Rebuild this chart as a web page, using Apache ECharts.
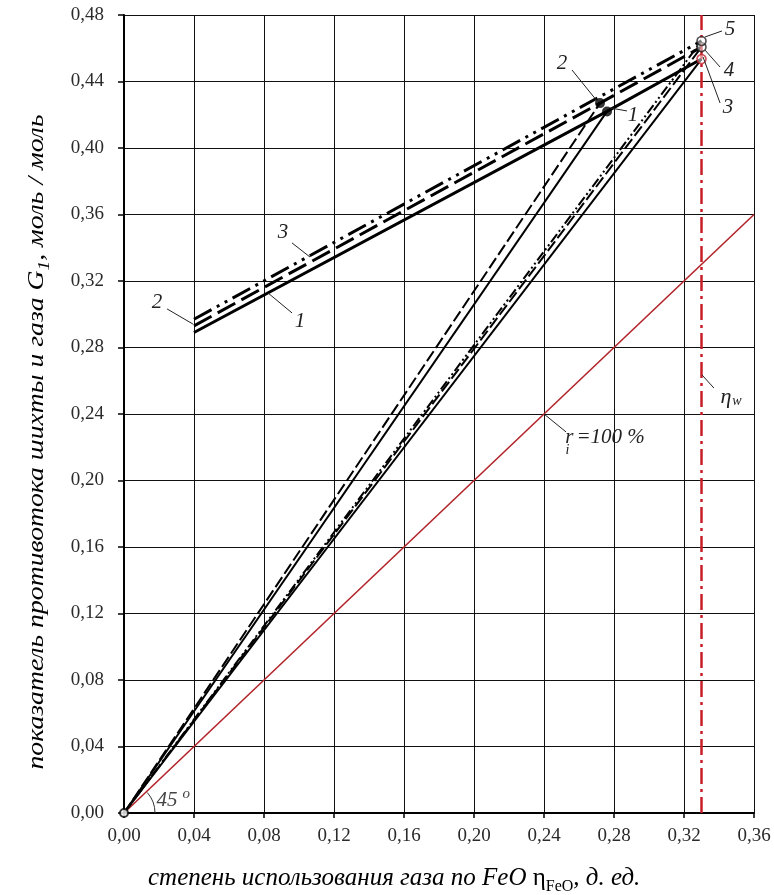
<!DOCTYPE html>
<html>
<head>
<meta charset="utf-8">
<script src="https://cdn.jsdelivr.net/npm/echarts@6/dist/echarts.min.js"></script>
<style>
  html, body { margin: 0; padding: 0; background: #fff; }
  #chart { width: 774px; height: 895px; }
</style>
</head>
<body>
<div id="chart"></div>
<script>
// axes
const xRange = [0, 0.36]
const yRange = [0, 0.48]
const tickStep = 0.04

// upper (thick) lines, curves 1..3
const upper1 = [[0.04, 0.289], [0.276, 0.422], [0.33, 0.4535]]
const upper2 = [[0.04, 0.293], [0.272, 0.427], [0.33, 0.4607]]
const upper3 = [[0.04, 0.297], [0.33, 0.4644]]
// steep sides of the triangles (origin -> points 1, 2)
const steep1 = [[0, 0], [0.276, 0.422]]
const steep2 = [[0, 0], [0.272, 0.427]]
// flat sides (origin -> points 3, 4, 5)
const flat1 = [[0, 0], [0.33, 0.4535]]
const flat2 = [[0, 0], [0.33, 0.4607]]
const flat3 = [[0, 0], [0.33, 0.4644]]
// r_i = 100 % line and eta_w
const ideal = [[0, 0], [0.36, 0.36]]
const etaW = 0.33
// marked points
const midPoints = [[0.276, 0.422], [0.272, 0.427]]
const endPoints = [[0.33, 0.4535], [0.33, 0.4607], [0.33, 0.4644]]
const originPoint = [[0, 0]]

const serif = '"Liberation Serif", "Times New Roman", serif'
const fmt = v => v.toFixed(2).replace('.', ',')

const chart = echarts.init(document.getElementById('chart'))

function line(data, width, type, color) {
  return {
    type: 'line',
    data: data,
    symbol: 'none',
    silent: true,
    z: 3,
    lineStyle: { color: color || '#000', width: width, type: type }
  }
}

const axisCommon = {
  type: 'value',
  interval: tickStep,
  axisLine: { onZero: false, lineStyle: { color: '#000', width: 2 } },
  axisTick: { show: true, length: 5, lineStyle: { color: '#000', width: 1.5 } },
  splitLine: { show: true, lineStyle: { color: '#111', width: 1 } },
  axisLabel: {
    formatter: fmt,
    fontFamily: serif,
    fontSize: 19,
    color: '#2a2a2a',
    showMinLabel: true,
    showMaxLabel: true
  }
}

chart.setOption({
  animation: false,
  grid: { left: 124, right: 20, top: 15, bottom: 82 },
  xAxis: Object.assign({}, axisCommon, {
    min: xRange[0], max: xRange[1],
    axisLabel: Object.assign({}, axisCommon.axisLabel, { margin: 14 })
  }),
  yAxis: Object.assign({}, axisCommon, {
    min: yRange[0], max: yRange[1],
    axisTick: { show: true, length: 6, lineStyle: { color: '#000', width: 1.5 } },
    axisLabel: Object.assign({}, axisCommon.axisLabel, { margin: 20 })
  }),
  series: [
    line(ideal, 1.6, 'solid', '#b3242b'),
    line(upper1, 3, 'solid'),
    line(upper2, 3, [20, 7]),
    line(upper3, 3, [20, 6, 3, 6, 3, 6]),
    line(steep1, 2, 'solid'),
    line(steep2, 2, [12, 4]),
    line(flat1, 2, 'solid'),
    line(flat2, 2, [12, 4]),
    line(flat3, 2, [10, 3, 2, 3, 2, 3]),
    line([[etaW, yRange[0]], [etaW, yRange[1]]], 2.5, [16, 5, 3, 5], '#c81e28'),
    {
      type: 'scatter', data: midPoints, symbol: 'circle', symbolSize: 10,
      itemStyle: { color: '#000' }, z: 6, silent: true
    },
    {
      type: 'scatter', symbol: 'circle', symbolSize: 9, z: 6, silent: true,
      data: endPoints.map((p, i) => ({
        value: p,
        itemStyle: { color: 'rgba(255,255,255,0.6)', borderColor: i === 0 ? '#c3262e' : '#222', borderWidth: 1.6 }
      }))
    },
    {
      type: 'scatter', data: originPoint, symbol: 'circle', symbolSize: 8, z: 6, silent: true,
      itemStyle: { color: '#fff', borderColor: '#000', borderWidth: 2 }
    }
  ]
})

// callouts in data coordinates: text position, leader start, leader end
const notes = [
  { text: '5', at: [0.3463, 0.4712], from: [0.3320, 0.4668], to: [0.3417, 0.4704] },
  { text: '4', at: [0.3457, 0.4469], from: [0.3320, 0.4589], to: [0.3406, 0.4487] },
  { text: '3', at: [0.3451, 0.4241], from: [0.3309, 0.4547], to: [0.3406, 0.4271] },
  { text: '2', at: [0.2503, 0.4511], from: [0.2560, 0.4469], to: [0.2703, 0.4283] },
  { text: '1', at: [0.2909, 0.4198], from: [0.2777, 0.4241], to: [0.2874, 0.4223] },
  { text: '3', at: [0.0909, 0.3489], from: [0.0960, 0.3429], to: [0.1063, 0.3344] },
  { text: '2', at: [0.0189, 0.3068], from: [0.0246, 0.3032], to: [0.0394, 0.2941] },
  { text: '1', at: [0.1006, 0.2959], from: [0.0960, 0.3008], to: [0.0823, 0.3128] }
]

function measure(parts, base) {
  const ctx = document.createElement('canvas').getContext('2d')
  let w = 0
  parts.forEach(p => {
    ctx.font = (p.italic ? 'italic ' : '') + Math.round(base * p.k) + 'px ' + serif
    w += ctx.measureText(p.t).width
  })
  return w
}

function drawNotes() {
  const px = v => chart.convertToPixel({ gridIndex: 0 }, v)
  const g = []
  const txt = (pos, text, size, extra) => g.push({
    type: 'text', x: pos[0], y: pos[1], z: 10, silent: true,
    style: Object.assign({
      text: text, font: 'italic ' + size + 'px ' + serif, fill: '#222',
      align: 'center', verticalAlign: 'middle'
    }, extra || {})
  })
  const lead = (a, b) => {
    const p = px(a), q = px(b)
    g.push({ type: 'line', z: 10, silent: true, shape: { x1: p[0], y1: p[1], x2: q[0], y2: q[1] }, style: { stroke: '#222', lineWidth: 1 } })
  }

  notes.forEach(n => {
    lead(n.from, n.to)
    txt(px(n.at), n.text, 21)
  })

  // eta_w
  lead([0.3303, 0.2635], [0.3371, 0.2556])
  const ew = px([0.3440, 0.2500])
  txt(ew, 'η', 22)
  txt([ew[0] + 11, ew[1] + 4], 'w', 14, { font: 'italic 14px ' + serif })

  // r_i = 100 %
  lead([0.24, 0.24], [0.2526, 0.2292])
  const ri = px([0.2545, 0.2256])
  txt(ri, 'r', 21)
  txt([ri[0] - 2, ri[1] + 12], 'i', 14)
  txt([ri[0] + 7, ri[1]], '=100 %', 21, { align: 'left' })

  // 45 degrees with arc
  const o = px([0, 0])
  g.push({
    type: 'arc', z: 10, silent: true,
    shape: { cx: o[0], cy: o[1], r: 31, startAngle: -Math.PI * 0.23, endAngle: 0, clockwise: true },
    style: { stroke: '#333', lineWidth: 1, fill: null }
  })
  const d45 = px([0.0185, 0.0078])
  txt(d45, '45', 21, { align: 'left', fill: '#444' })
  txt([d45[0] + 26, d45[1] - 6], 'o', 15, { align: 'left', fill: '#444' })

  // y axis name, stretched along the line to the reference length
  const yf = 23
  const ys = 16
  const yParts = [
    { t: 'показатель противотока шихты и газа G', k: 1, italic: true },
    { t: '1', k: ys / yf, italic: true },
    { t: ', моль / моль', k: 1, italic: true }
  ]
  const yStretch = 655 / measure(yParts, yf)
  g.push({
    type: 'text', x: 37, y: 442, rotation: Math.PI / 2, scaleX: yStretch, silent: true,
    style: {
      text: '{a|показатель противотока шихты и газа G}{s|1}{a|, моль / моль}',
      align: 'center', verticalAlign: 'middle',
      rich: {
        a: { fontFamily: serif, fontStyle: 'italic', fontSize: yf, lineHeight: yf + 8, verticalAlign: 'middle', color: '#2a2a2a' },
        s: { fontFamily: serif, fontStyle: 'italic', fontSize: ys, lineHeight: ys, verticalAlign: 'bottom', color: '#2a2a2a' }
      }
    }
  })

  // x axis name
  const xParts = [
    { t: 'степень использования газа по FeO ', k: 1, italic: true },
    { t: 'η', k: 1, italic: false },
    { t: 'FeO', k: 0.65, italic: false },
    { t: ', д. ед.', k: 1, italic: true }
  ]
  const xf = Math.round(20 * 485 / measure(xParts, 20))
  const xs = Math.round(xf * 0.65)
  g.push({
    type: 'text', x: 148, y: 878, silent: true,
    style: {
      text: '{a|степень использования газа по FeO }{e|η}{s|FeO}{a|, д. ед.}',
      align: 'left', verticalAlign: 'middle',
      rich: {
        a: { fontFamily: serif, fontStyle: 'italic', fontSize: xf, lineHeight: xf + 8, verticalAlign: 'middle', color: '#222' },
        e: { fontFamily: serif, fontSize: xf, lineHeight: xf + 8, verticalAlign: 'middle', color: '#222' },
        s: { fontFamily: serif, fontSize: xs, lineHeight: xs, verticalAlign: 'bottom', color: '#222' }
      }
    }
  })

  chart.setOption({ graphic: g })
}

drawNotes()
</script>
</body>
</html>
